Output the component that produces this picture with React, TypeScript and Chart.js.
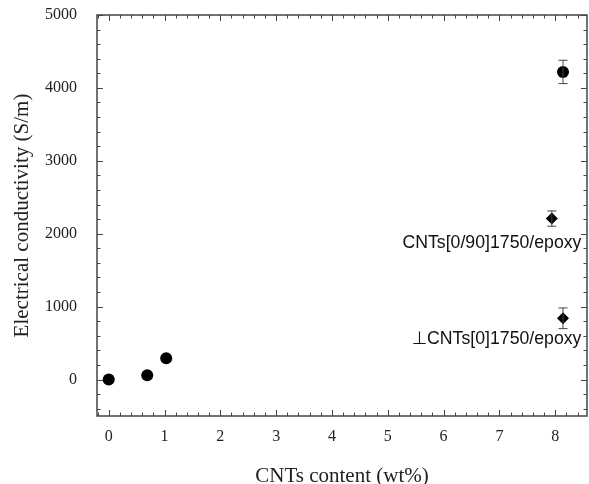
import React, { useEffect, useRef } from "react";
import { Chart, registerables } from "chart.js";

Chart.register(...registerables);

// ---- data ----
const circleX = [0, 0.69, 1.03, 8.14];
const circleY = [0, 60, 293, 4219];
const circleErr = [0, 0, 0, 160];

const diamondX = [7.94, 8.14];
const diamondY = [2208, 840];
const diamondErr = [105, 142];

const annotationText = ["CNTs[0/90]1750/epoxy", "\u22A5CNTs[0]1750/epoxy"];
const annotationX = [8.47, 8.47];
const annotationY = [1870, 557];

const xTickValues = [0, 1, 2, 3, 4, 5, 6, 7, 8];
const yTickValues = [0, 1000, 2000, 3000, 4000, 5000];
const xMin = -0.21;
const xMax = 8.57;
const yMin = -500;
const yMax = 5000;
const xMinorStep = 0.2;
const yMinorStep = 200;

const serif = "'Liberation Serif', 'Times New Roman', serif";
const sans = "'Liberation Sans', Arial, 'DejaVu Sans', sans-serif";

const frameAndExtras = {
  id: "frameAndExtras",
  afterDatasetsDraw(chart: any) {
    const { ctx, chartArea, scales } = chart;
    const xs = scales.x;
    const ys = scales.y;
    ctx.save();
    // error bars
    ctx.strokeStyle = "#444";
    ctx.lineWidth = 1;
    const drawErr = (xv: number[], yv: number[], ev: number[]) => {
      for (let i = 0; i < xv.length; i++) {
        if (!ev[i]) continue;
        const px = xs.getPixelForValue(xv[i]);
        const top = ys.getPixelForValue(yv[i] + ev[i]);
        const bot = ys.getPixelForValue(yv[i] - ev[i]);
        ctx.beginPath();
        ctx.moveTo(px, top);
        ctx.lineTo(px, bot);
        ctx.moveTo(px - 4.5, top);
        ctx.lineTo(px + 4.5, top);
        ctx.moveTo(px - 4.5, bot);
        ctx.lineTo(px + 4.5, bot);
        ctx.stroke();
      }
    };
    drawErr(circleX, circleY, circleErr);
    drawErr(diamondX, diamondY, diamondErr);

    // frame
    ctx.strokeStyle = "#444";
    ctx.lineWidth = 1.5;
    ctx.strokeRect(chartArea.left, chartArea.top, chartArea.right - chartArea.left, chartArea.bottom - chartArea.top);

    // inward ticks
    ctx.lineWidth = 1;
    ctx.beginPath();
    const nx = Math.round((xMax - 0) / xMinorStep);
    for (let k = -1; k <= nx; k++) {
      const v = Math.round(k * xMinorStep * 1000) / 1000;
      if (v < xMin || v > xMax) continue;
      const major = Math.abs(v - Math.round(v)) < 1e-6;
      const len = major ? 6 : 3.5;
      const px = Math.round(xs.getPixelForValue(v)) + 0.5;
      ctx.moveTo(px, chartArea.bottom);
      ctx.lineTo(px, chartArea.bottom - len);
      ctx.moveTo(px, chartArea.top);
      ctx.lineTo(px, chartArea.top + len);
    }
    for (let v = -400; v <= yMax; v += yMinorStep) {
      const major = v % 1000 === 0;
      const len = major ? 6 : 3.5;
      const py = Math.round(ys.getPixelForValue(v)) + 0.5;
      ctx.moveTo(chartArea.left, py);
      ctx.lineTo(chartArea.left + len, py);
      ctx.moveTo(chartArea.right, py);
      ctx.lineTo(chartArea.right - len, py);
    }
    ctx.stroke();

    // annotations
    ctx.fillStyle = "#111";
    ctx.font = `17.7px ${sans}`;
    ctx.textAlign = "right";
    ctx.textBaseline = "middle";
    for (let i = 0; i < annotationText.length; i++) {
      ctx.fillText(annotationText[i], xs.getPixelForValue(annotationX[i]), ys.getPixelForValue(annotationY[i]));
    }
    ctx.restore();
  },
};

export default function App() {
  const ref = useRef<HTMLCanvasElement>(null);
  useEffect(() => {
    if (!ref.current) return;
    const chart = new Chart(ref.current, {
      type: "scatter",
      data: {
        datasets: [
          {
            label: "circles",
            data: circleX.map((x, i) => ({ x, y: circleY[i] })),
            pointStyle: "circle",
            pointRadius: 6,
            backgroundColor: "#000",
            borderColor: "#000",
            borderWidth: 0,
          },
          {
            label: "diamonds",
            data: diamondX.map((x, i) => ({ x, y: diamondY[i] })),
            pointStyle: "rectRot",
            pointRadius: 6,
            backgroundColor: "#000",
            borderColor: "#000",
            borderWidth: 0,
          },
        ],
      },
      options: {
        responsive: false,
        animation: false,
        devicePixelRatio: 1,
        layout: { autoPadding: false, padding: { top: 15, right: 2, left: 0, bottom: 0 } },
        plugins: { legend: { display: false }, tooltip: { enabled: false } },
        scales: {
          x: {
            type: "linear",
            min: xMin,
            max: xMax,
            grid: { display: false, drawTicks: false },
            border: { display: false },
            afterBuildTicks: (s: any) => {
              s.ticks = xTickValues.map((v) => ({ value: v }));
            },
            afterFit: (s: any) => {
              s.height = 68;
              s.paddingLeft = 0;
              s.paddingRight = 0;
            },
            ticks: {
              padding: 11,
              color: "#222",
              font: { family: serif, size: 16 },
              callback: (v: any) => String(v),
            },
            title: {
              display: true,
              text: "CNTs content (wt%)",
              color: "#222",
              font: { family: serif, size: 21, lineHeight: 1 },
              padding: { top: 0, bottom: -2.5 },
            },
          },
          y: {
            type: "linear",
            min: yMin,
            max: yMax,
            grid: { display: false, drawTicks: false },
            border: { display: false },
            afterBuildTicks: (s: any) => {
              s.ticks = yTickValues.map((v) => ({ value: v }));
            },
            afterFit: (s: any) => {
              s.width = 97;
              s.paddingTop = 0;
              s.paddingBottom = 0;
            },
            ticks: {
              padding: 20,
              color: "#222",
              font: { family: serif, size: 16 },
              callback: (v: any) => String(v),
            },
            title: {
              display: true,
              text: "Electrical conductivity (S/m)",
              color: "#222",
              font: { family: serif, size: 21 },
              padding: { top: 10, bottom: 0 },
            },
          },
        },
      },
      plugins: [frameAndExtras],
    });
    return () => chart.destroy();
  }, []);
  return (
    <div style={{ position: "absolute", left: 0, top: 0, width: 589, height: 484, background: "#fff" }}>
      <canvas ref={ref} width={589} height={484} style={{ display: "block" }} />
    </div>
  );
}
